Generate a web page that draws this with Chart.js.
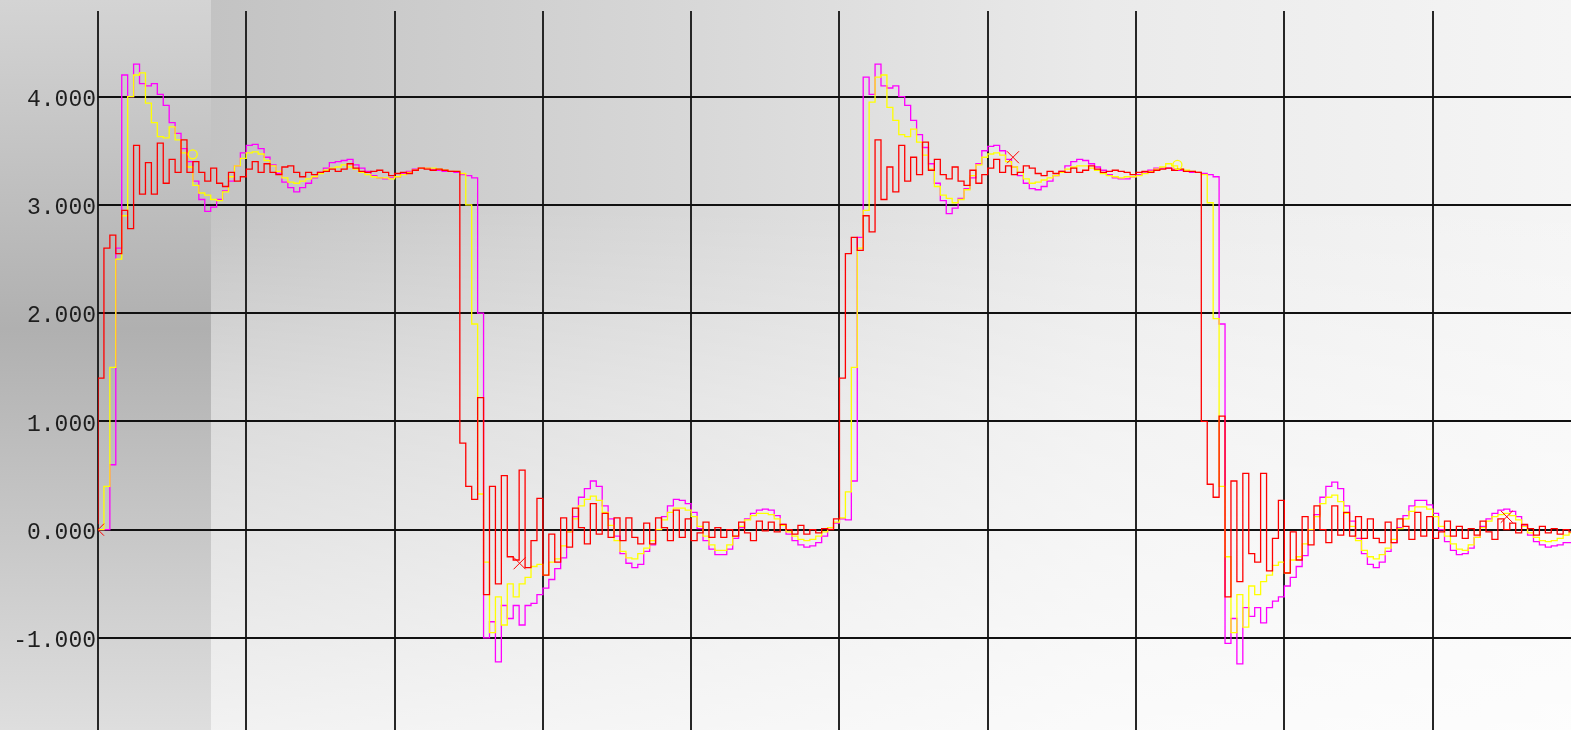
<!DOCTYPE html>
<html>
<head>
<meta charset="utf-8">
<title>Step response</title>
<script src="https://cdn.jsdelivr.net/npm/chart.js@4.4.1/dist/chart.umd.min.js"></script>
<style>
  html, body { margin: 0; padding: 0; overflow: hidden; background: #fff; }
  #wrap { position: relative; width: 1571px; height: 730px; }
</style>
</head>
<body>
<div id="wrap"><canvas id="responseChart"></canvas></div>
<script>
// time between samples (one grid division = 1.0)
const sampleStep = 0.04;

// y axis ticks
const yTicks = [-1, 0, 1, 2, 3, 4];

// red trace, first and second cycle
const redCycle1 = [
  0.05, 1.4, 2.6, 2.72, 2.55, 2.95, 2.78, 3.55, 3.1, 3.39,
  3.1, 3.57, 3.2, 3.42, 3.3, 3.6, 3.3, 3.4, 3.3, 3.22,
  3.34, 3.2, 3.17, 3.3, 3.22, 3.26, 3.33, 3.4, 3.3, 3.38,
  3.3, 3.28, 3.35, 3.36, 3.3, 3.26, 3.3, 3.28, 3.3, 3.31,
  3.33, 3.31, 3.33, 3.38, 3.34, 3.31, 3.3, 3.31, 3.32, 3.3,
  3.27, 3.29, 3.3, 3.29, 3.32, 3.34, 3.33, 3.32, 3.33, 3.32,
  3.31, 3.31, 0.8, 0.4, 0.28, 1.22, -0.6, 0.4, -0.5, 0.5,
  -0.25, -0.28, 0.55, -0.35, -0.1, 0.29, -0.42, -0.04, -0.3, 0.11,
  -0.16, 0.2, 0.02, -0.13, 0.24, -0.04, 0.15, -0.07, 0.11, -0.1,
  0.11, -0.07, -0.13, 0.06, -0.13, 0.11, 0.02, -0.1, 0.18, -0.07,
  0.1, -0.1, -0.03, 0.07, -0.07, 0.02, -0.07, 0.0, -0.06, 0.07,
  -0.03, -0.1, 0.08, -0.01, 0.07, -0.02, 0.05, 0.0, -0.04, 0.04,
  -0.04, 0.0, -0.03, 0.01, 0.0
];
const redCycle2 = [
  0.1, 1.4, 2.55, 2.7, 2.58, 2.9, 2.75, 3.6, 3.05, 3.35,
  3.12, 3.55, 3.22, 3.44, 3.28, 3.58, 3.32, 3.42, 3.28, 3.24,
  3.35, 3.22, 3.18, 3.32, 3.2, 3.28, 3.34, 3.42, 3.3, 3.36,
  3.28, 3.3, 3.36, 3.34, 3.29, 3.27, 3.31, 3.29, 3.31, 3.3,
  3.34, 3.3, 3.32, 3.36, 3.33, 3.3, 3.31, 3.32, 3.31, 3.3,
  3.28, 3.3, 3.31, 3.3, 3.32, 3.33, 3.34, 3.32, 3.33, 3.31,
  3.31, 3.3, 1.0, 0.42, 0.3, 1.05, -0.62, 0.45, -0.48, 0.52,
  -0.22, -0.3, 0.52, -0.38, -0.08, 0.27, -0.4, -0.02, -0.28, 0.12,
  -0.14, 0.22, 0.0, -0.12, 0.22, -0.05, 0.16, -0.06, 0.12, -0.08,
  0.1, -0.08, -0.12, 0.07, -0.12, 0.1, 0.03, -0.09, 0.16, -0.06,
  0.12, -0.08, -0.02, 0.08, -0.06, 0.03, -0.08, 0.01, -0.05, 0.08,
  -0.02, -0.09, 0.1, 0.0, 0.06, -0.03, 0.05, 0.01, -0.05, 0.03,
  -0.03, 0.01, -0.04, 0.0, -0.02
];

// yellow trace
const yellowCycle1 = [
  0, 0, 0.4, 1.5, 2.5, 2.9, 4.0, 4.2, 4.22, 3.94,
  3.76, 3.63, 3.62, 3.72, 3.6, 3.48, 3.35, 3.18, 3.11, 3.09,
  3.05, 3.04, 3.12, 3.26, 3.36, 3.43, 3.48, 3.49, 3.47, 3.41,
  3.36, 3.31, 3.25, 3.21, 3.2, 3.22, 3.24, 3.26, 3.29, 3.32,
  3.34, 3.35, 3.37, 3.35, 3.33, 3.3, 3.28, 3.26, 3.25, 3.25,
  3.24, 3.26, 3.28, 3.3, 3.32, 3.34, 3.34, 3.34, 3.33, 3.32,
  3.31, 3.31, 3.29, 3.0, 1.9, 0.33, -0.3, -0.95, -0.62, -0.88,
  -0.5, -0.62, -0.5, -0.44, -0.34, -0.32, -0.42, -0.3, -0.27, -0.15,
  -0.02, 0.1, 0.22, 0.28, 0.31, 0.27, 0.16, 0.04, -0.1, -0.2,
  -0.26, -0.27, -0.22, -0.17, -0.1, 0.0, 0.09, 0.16, 0.2, 0.2,
  0.18, 0.12, 0.03, -0.06, -0.14, -0.19, -0.19, -0.14, -0.06, 0.03,
  0.09, 0.13, 0.15, 0.15, 0.14, 0.1, 0.04, -0.02, -0.06, -0.09,
  -0.1, -0.09, -0.06, -0.02, 0.02
];
const yellowCycle2 = [
  0.07, 0.11, 0.35, 1.5, 2.6, 2.95, 3.95, 4.18, 4.2, 3.9,
  3.78, 3.65, 3.63, 3.7, 3.58, 3.46, 3.33, 3.17, 3.09, 3.06,
  3.02, 3.05, 3.14, 3.27, 3.37, 3.44, 3.47, 3.48, 3.46, 3.4,
  3.35, 3.3, 3.24, 3.2, 3.21, 3.23, 3.25, 3.27, 3.3, 3.33,
  3.35, 3.36, 3.36, 3.34, 3.32, 3.29, 3.27, 3.26, 3.25, 3.26,
  3.26, 3.27, 3.29, 3.31, 3.33, 3.35, 3.38, 3.36, 3.33, 3.32,
  3.31, 3.3, 3.28, 3.02, 1.95, 0.4, -0.25, -0.95, -0.6, -0.9,
  -0.52, -0.6, -0.48, -0.42, -0.33, -0.3, -0.4, -0.28, -0.25, -0.13,
  0.0, 0.12, 0.24, 0.3, 0.32, 0.26, 0.15, 0.03, -0.1, -0.19,
  -0.25, -0.27, -0.23, -0.17, -0.09, 0.01, 0.1, 0.17, 0.21, 0.21,
  0.19, 0.12, 0.03, -0.06, -0.13, -0.18, -0.19, -0.14, -0.07, 0.02,
  0.08, 0.12, 0.14, 0.15, 0.13, 0.09, 0.03, -0.03, -0.07, -0.1,
  -0.11, -0.1, -0.08, -0.05, -0.03
];

// magenta trace
const magentaCycle1 = [
  0, 0, 0, 0.6, 2.6, 4.2, 4.0, 4.3, 4.12, 4.1,
  4.12, 4.02, 3.92, 3.76, 3.66, 3.52, 3.4, 3.22, 3.05, 2.94,
  2.98, 3.05, 3.13, 3.22, 3.36, 3.48, 3.55, 3.56, 3.52, 3.44,
  3.37, 3.29, 3.21, 3.16, 3.12, 3.16, 3.2, 3.25, 3.3, 3.34,
  3.39, 3.4, 3.41, 3.42, 3.37, 3.34, 3.31, 3.27, 3.25, 3.24,
  3.25, 3.26, 3.29, 3.31, 3.33, 3.34, 3.34, 3.33, 3.32, 3.31,
  3.31, 3.3, 3.28, 3.27, 3.25, 2.0, -1.0, -0.85, -1.22, -0.7,
  -0.82, -0.7, -0.88, -0.7, -0.68, -0.6, -0.54, -0.46, -0.36, -0.26,
  -0.02, 0.12, 0.3, 0.38, 0.45, 0.4, 0.22, 0.1, -0.06, -0.22,
  -0.31, -0.35, -0.32, -0.2, -0.14, 0.0, 0.12, 0.22, 0.28, 0.27,
  0.24, 0.16, 0.01, -0.1, -0.18, -0.23, -0.23, -0.18, -0.08, 0.02,
  0.1, 0.15, 0.18, 0.19, 0.18, 0.13, 0.05, -0.04, -0.1, -0.14,
  -0.16, -0.15, -0.12, -0.06, 0.02
];
const magentaCycle2 = [
  0.06, 0.1, 0.09, 0.45, 2.7, 4.18, 4.02, 4.3, 4.1, 4.08,
  4.1, 4.0, 3.92, 3.78, 3.65, 3.53, 3.38, 3.2, 3.04, 2.92,
  2.97, 3.06, 3.15, 3.25, 3.38, 3.5, 3.54, 3.55, 3.5, 3.42,
  3.35, 3.27, 3.2, 3.15, 3.14, 3.17, 3.22, 3.27, 3.31, 3.36,
  3.4, 3.42, 3.41, 3.38, 3.35, 3.32, 3.28, 3.25, 3.24, 3.24,
  3.26, 3.28, 3.3, 3.32, 3.34, 3.34, 3.34, 3.33, 3.32, 3.31,
  3.3, 3.3, 3.29, 3.28, 3.26, 1.9, -1.05, -0.82, -1.24, -0.72,
  -0.8, -0.72, -0.86, -0.72, -0.66, -0.62, -0.52, -0.44, -0.34, -0.24,
  0.0, 0.14, 0.3, 0.4, 0.44, 0.38, 0.22, 0.08, -0.08, -0.22,
  -0.32, -0.35, -0.3, -0.2, -0.12, 0.02, 0.13, 0.22, 0.27, 0.27,
  0.23, 0.15, 0.0, -0.11, -0.19, -0.23, -0.22, -0.17, -0.07, 0.03,
  0.1, 0.15, 0.18, 0.19, 0.17, 0.12, 0.04, -0.05, -0.11, -0.14,
  -0.16, -0.15, -0.14, -0.12, -0.12
];

// cursor marks
const redMarkX = [0, 2.843, 6.17, 9.5];
const redMarkY = [0, -0.31, 3.44, 0.12];
const yellowMarkX = [0.639, 7.279];
const yellowMarkY = [3.467, 3.37];

function toPoints(values) {
  return values.map((v, i) => ({ x: i * sampleStep, y: v }));
}

function pairPoints(xs, ys) {
  return xs.map((x, i) => ({ x: x, y: ys[i] }));
}

const plotBackground = {
  id: "plotBackground",
  beforeDraw(chart) {
    const { ctx, width, height } = chart;
    ctx.save();

    const across = ctx.createLinearGradient(211, 0, width, 0);
    across.addColorStop(0, "#c3c3c3");
    across.addColorStop(0.36, "#d8d8d8");
    across.addColorStop(0.65, "#eaeaea");
    across.addColorStop(1, "#f5f5f5");
    ctx.fillStyle = across;
    ctx.fillRect(0, 0, width, height);

    const fade = ctx.createLinearGradient(0, 0, 0, height);
    fade.addColorStop(0, "rgba(255,255,255,0)");
    fade.addColorStop(0.27, "rgba(255,255,255,0)");
    fade.addColorStop(0.55, "rgba(255,255,255,0.39)");
    fade.addColorStop(0.73, "rgba(255,255,255,0.55)");
    fade.addColorStop(1, "rgba(255,255,255,0.78)");
    ctx.fillStyle = fade;
    ctx.fillRect(0, 0, width, height);

    const band = ctx.createLinearGradient(0, 0, 0, height);
    band.addColorStop(0, "#d4d4d4");
    band.addColorStop(0.45, "#b0b0b0");
    band.addColorStop(1, "#dedede");
    ctx.fillStyle = band;
    ctx.fillRect(0, 0, 211, height);

    ctx.restore();
  },
};

const traceStyle = {
  borderWidth: 1.3,
  pointRadius: 0,
  stepped: "after",
  fill: false,
};

new Chart(document.getElementById("responseChart"), {
  type: "line",
  data: {
    datasets: [
      {
        type: "scatter",
        data: pairPoints(redMarkX, redMarkY),
        pointStyle: "crossRot",
        pointRadius: 8.5,
        borderColor: "#ff0000",
        borderWidth: 1,
        showLine: false,
      },
      {
        type: "scatter",
        data: pairPoints(yellowMarkX, yellowMarkY),
        pointStyle: "circle",
        pointRadius: 4.5,
        borderColor: "#ffff00",
        backgroundColor: "rgba(0,0,0,0)",
        borderWidth: 1.3,
        showLine: false,
      },
      { ...traceStyle, data: toPoints(redCycle1.concat(redCycle2)), borderColor: "#ff0000" },
      { ...traceStyle, data: toPoints(yellowCycle1.concat(yellowCycle2)), borderColor: "#ffff00" },
      { ...traceStyle, data: toPoints(magentaCycle1.concat(magentaCycle2)), borderColor: "#ff00ff" },
    ],
  },
  options: {
    responsive: true,
    maintainAspectRatio: false,
    animation: false,
    events: [],
    layout: { autoPadding: false, padding: { top: 11, left: 0, right: 0, bottom: 0 } },
    plugins: {
      legend: { display: false },
      tooltip: { enabled: false },
    },
    scales: {
      x: {
        type: "linear",
        min: 0,
        max: 9.933,
        border: { display: false },
        grid: { color: "#262626", lineWidth: 2, drawTicks: false },
        ticks: { display: false, stepSize: 1, includeBounds: false },
        afterFit: (scale) => {
          scale.height = 0;
          scale.paddingLeft = 0;
          scale.paddingRight = 0;
        },
      },
      y: {
        type: "linear",
        min: -1.85,
        max: 4.791,
        border: { display: false },
        grid: { color: "#111111", lineWidth: 2, drawTicks: false },
        afterBuildTicks: (scale) => { scale.ticks = yTicks.map((v) => ({ value: v })); },
        ticks: {
          includeBounds: false,
          padding: 2,
          labelOffset: 3,
          color: "#1e1e1e",
          font: { family: "'Liberation Mono', monospace", size: 23 },
          callback: (v) => Number(v).toFixed(3),
        },
        afterFit: (scale) => {
          scale.width = 98;
          scale.paddingTop = 0;
          scale.paddingBottom = 0;
        },
      },
    },
  },
  plugins: [plotBackground],
});
</script>
</body>
</html>
